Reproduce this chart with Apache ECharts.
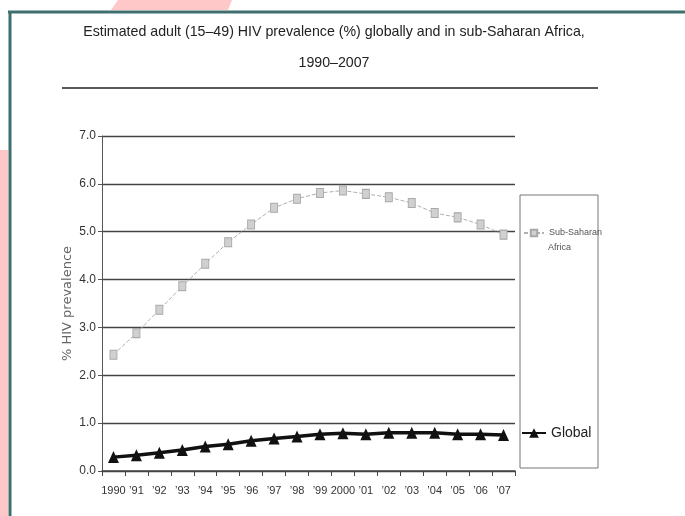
<!DOCTYPE html>
<html><head><meta charset="utf-8">
<script src="https://cdn.jsdelivr.net/npm/echarts@6/dist/echarts.min.js"></script>
<style>html,body{margin:0;padding:0;background:#fff}#c{width:685px;height:516px}</style>
</head><body><div id="c"></div>
<script>
const years = ['1990','’91','’92','’93','’94','’95','’96','’97','’98','’99','2000','’01','’02','’03','’04','’05','’06','’07'];
const subSaharanAfrica = [2.43,2.88,3.37,3.86,4.33,4.78,5.15,5.50,5.69,5.81,5.86,5.79,5.72,5.60,5.39,5.30,5.15,4.94];
const globalPrev = [0.29,0.33,0.38,0.44,0.51,0.56,0.63,0.68,0.72,0.77,0.79,0.77,0.80,0.80,0.80,0.77,0.77,0.75];
const yTicks = [0,1,2,3,4,5,6,7];

const narrow = "'Liberation Sans Narrow','Arial Narrow','Liberation Sans',sans-serif";
const chart = echarts.init(document.getElementById('c'));
chart.setOption({
  backgroundColor:'#fff',
  animation:false,
  title:{
    text:'Estimated adult (15–49) HIV prevalence (%) globally and in sub-Saharan Africa,\n1990–2007',
    left:329, top:12, textAlign:'center',
    textStyle:{fontFamily:narrow,fontSize:14.2,fontWeight:'normal',color:'#222',lineHeight:31}
  },
  graphic:[
    {type:'polygon',shape:{points:[[111,10],[118,0],[232,0],[228,10]]},style:{fill:'#ffc8c8'},silent:true},
    {type:'rect',shape:{x:0,y:150,width:8,height:366},style:{fill:'#ffc8c8'},silent:true},
    {type:'line',shape:{x1:8,y1:12,x2:685,y2:12},style:{stroke:'#3f6e6e',lineWidth:3},silent:true},
    {type:'line',shape:{x1:10,y1:11,x2:10,y2:516},style:{stroke:'#3f6e6e',lineWidth:3},silent:true},
    {type:'line',shape:{x1:62,y1:88,x2:598,y2:88},style:{stroke:'#222',lineWidth:1.5},silent:true},
    {type:'rect',shape:{x:520,y:195,width:78,height:273},style:{fill:'none',stroke:'#777',lineWidth:1},silent:true},
    {type:'text',left:548,top:243,style:{text:'Africa',fontFamily:narrow,fontSize:9,fill:'#555'},silent:true}
  ],
  legend:[
    {data:['Sub-Saharan Africa'],left:518,top:222,itemWidth:20,itemHeight:8,itemGap:4,
     formatter:()=> 'Sub-Saharan',
     textStyle:{fontFamily:narrow,fontSize:9,color:'#555',lineHeight:12}},
    {data:['Global'],left:516,top:421,itemWidth:24,itemHeight:12,itemGap:4,
     textStyle:{fontFamily:narrow,fontSize:14,color:'#222'}}
  ],
  grid:{left:102,right:170,top:136,bottom:45},
  xAxis:{
    type:'category',data:years,boundaryGap:true,
    axisLine:{lineStyle:{color:'#444',width:1.5}},
    axisTick:{show:true,length:5,lineStyle:{color:'#444'}},
    axisLabel:{fontFamily:narrow,fontSize:11,color:'#333',margin:14,interval:0}
  },
  yAxis:{
    type:'value',min:0,max:7,interval:1,
    name:'% HIV prevalence',nameLocation:'middle',nameGap:28,nameMoveOverlap:false,
    nameTextStyle:{fontFamily:'DejaVu Sans',fontSize:13,color:'#666'},
    axisLine:{show:true,lineStyle:{color:'#555',width:1}},
    axisTick:{show:true,length:4,lineStyle:{color:'#555'}},
    axisLabel:{fontFamily:narrow,fontSize:12,color:'#333',margin:6,formatter:v=>v.toFixed(1)},
    splitLine:{lineStyle:{color:'#444',width:1.4}}
  },
  series:[
    {name:'Sub-Saharan Africa',type:'line',data:subSaharanAfrica,
     symbol:'rect',symbolSize:[7,9],
     lineStyle:{color:'#b0b0b0',width:1,type:[4,2]},
     itemStyle:{color:'#d0d0d0',borderColor:'#a8a8a8',borderWidth:1}},
    {name:'Global',type:'line',data:globalPrev,
     symbol:'triangle',symbolSize:[11,12],
     lineStyle:{color:'#111',width:3.5},
     itemStyle:{color:'#111'}}
  ]
});
</script></body></html>
